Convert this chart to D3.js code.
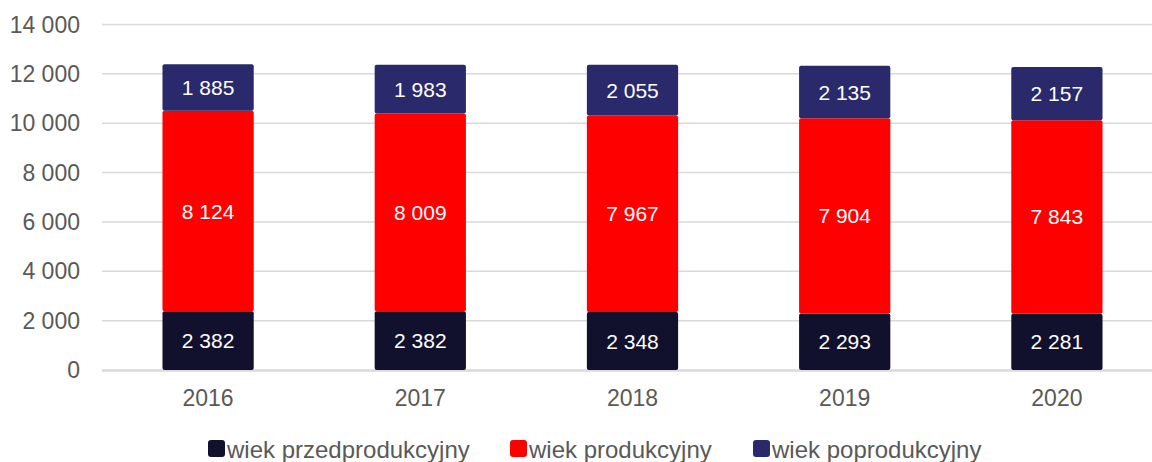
<!DOCTYPE html>
<html><head><meta charset="utf-8">
<script src="https://cdn.jsdelivr.net/npm/d3@7"></script>
<style>body{margin:0;background:#fff}svg{display:block}text{font-family:"Liberation Sans",Arial,sans-serif}</style>
</head><body><svg id="c" width="1152" height="462"></svg>
<script>
const years = ["2016","2017","2018","2019","2020"];
const przed = [2382,2382,2348,2293,2281];
const prod = [8124,8009,7967,7904,7843];
const poprod = [1885,1983,2055,2135,2157];
const seriesNames = ["wiek przedprodukcyjny","wiek produkcyjny","wiek poprodukcyjny"];
const seriesColors = ["#11112e","#ff0000","#29296b"];
const yTicks = [0,2000,4000,6000,8000,10000,12000,14000];

const loc = d3.formatLocale({decimal:",",thousands:"\u00a0",grouping:[3],currency:["",""]});
const fmt = loc.format(",d");
const svg = d3.select("#c");
const x = d3.scaleBand().domain(years).range([102,1163]).paddingInner(0.57).paddingOuter(0.285);
const y = d3.scaleLinear().domain([0,14000]).range([370,24.5]);

const rows = years.map((yr,i)=>({year:yr, s0:przed[i], s1:prod[i], s2:poprod[i]}));
const stack = d3.stack().keys(["s0","s1","s2"])(rows);

// grid
svg.append("g").selectAll("line").data(yTicks).join("line")
 .attr("x1",102).attr("x2",1163).attr("y1",d=>y(d)).attr("y2",d=>y(d))
 .attr("stroke","#d9d9d9").attr("stroke-width",1.5);

// y labels
svg.append("g").selectAll("text").data(yTicks).join("text")
 .attr("x",80).attr("y",d=>y(d)).attr("dy","0.35em").attr("text-anchor","end")
 .attr("font-size",23).attr("fill","#595959").text(d=>fmt(d));

// bars
const g = svg.append("g");
stack.forEach((s,si)=>{
  g.append("g").selectAll("rect").data(s).join("rect")
   .attr("x",d=>x(d.data.year)).attr("width",x.bandwidth())
   .attr("y",d=>y(d[1])).attr("height",d=>y(d[0])-y(d[1]))
   .attr("rx",2).attr("fill",seriesColors[si]);
  g.append("g").selectAll("text").data(s).join("text")
   .attr("x",d=>x(d.data.year)+x.bandwidth()/2).attr("y",d=>(y(d[0])+y(d[1]))/2)
   .attr("dy","0.36em").attr("text-anchor","middle").attr("font-size",21).attr("fill","#fff")
   .text(d=>fmt(d[1]-d[0]));
});

// baseline
svg.append("line").attr("x1",102).attr("x2",1163).attr("y1",y(0)+1).attr("y2",y(0)+1)
 .attr("stroke","#d9d9d9").attr("stroke-width",1.5);

// x labels
svg.append("g").selectAll("text").data(years).join("text")
 .attr("x",d=>x(d)+x.bandwidth()/2).attr("y",398).attr("dy","0.36em").attr("text-anchor","middle")
 .attr("font-size",23).attr("fill","#595959").text(d=>d);

// legend
const legX = [208,510,753];
const lg = svg.append("g").selectAll("g").data(seriesNames).join("g")
 .attr("transform",(d,i)=>`translate(${legX[i]},449)`);
lg.append("rect").attr("x",0).attr("y",-9).attr("width",17).attr("height",17).attr("rx",3)
 .attr("fill",(d,i)=>seriesColors[i]);
lg.append("text").attr("x",19).attr("dy","0.36em").attr("font-size",24).attr("fill","#595959").text(d=>d);
</script></body></html>
